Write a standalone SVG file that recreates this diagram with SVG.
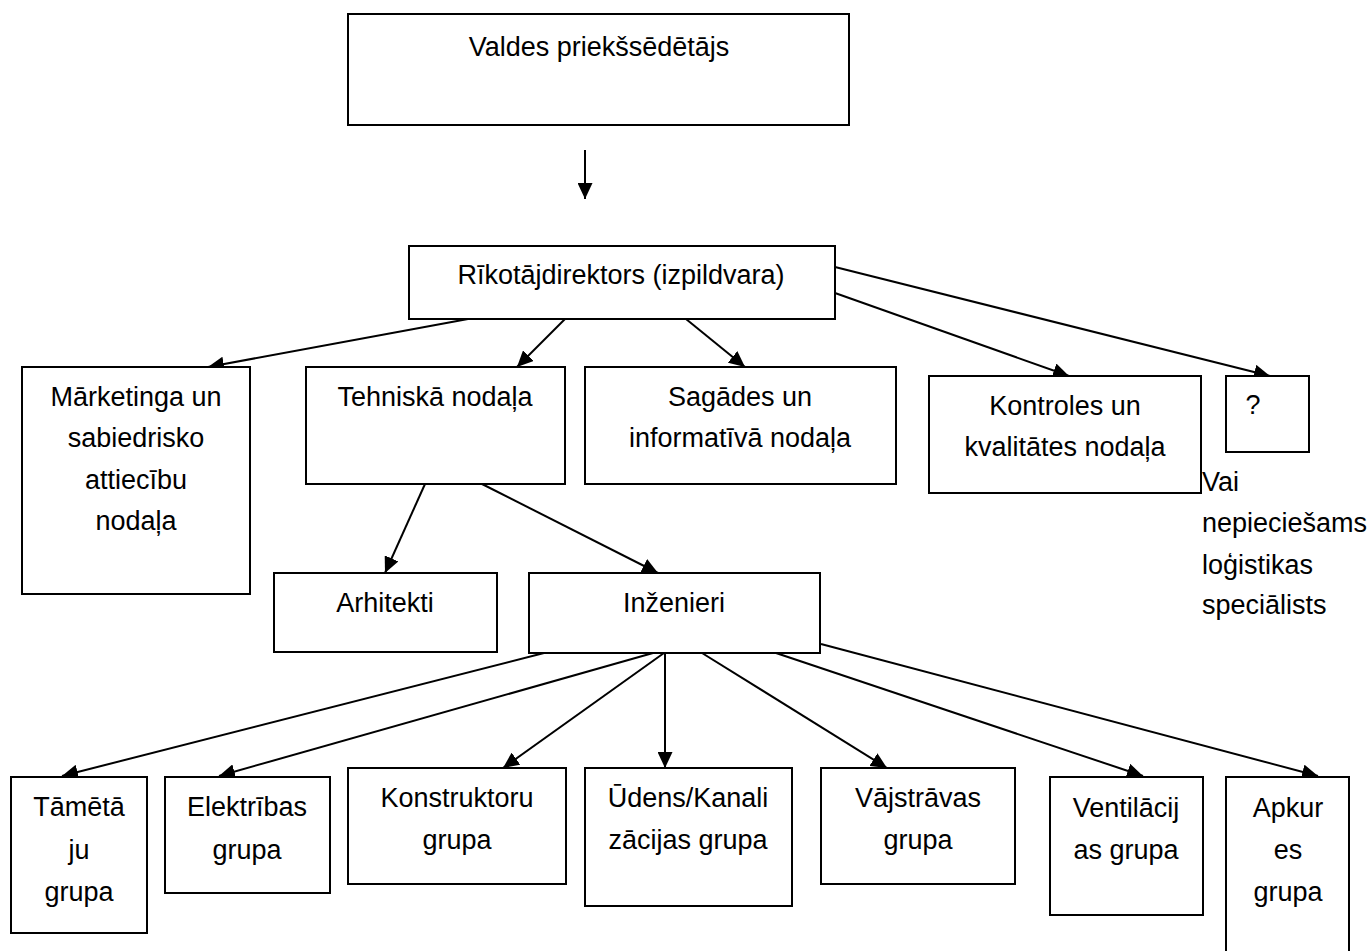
<svg xmlns="http://www.w3.org/2000/svg" width="1371" height="951" viewBox="0 0 1371 951">
  <style>
    .box { fill: #ffffff; stroke: #000000; stroke-width: 2; }
    .lbl { font-family: "Liberation Sans", Arial, sans-serif; font-size: 27px; fill: #000000; text-anchor: middle; }
    .note { font-family: "Liberation Sans", Arial, sans-serif; font-size: 27px; fill: #000000; }
    .edge { fill: none; stroke: #000000; stroke-width: 2; marker-end: url(#arrow); }
  </style>
  <defs>
    <marker id="arrow" markerUnits="userSpaceOnUse" markerWidth="17" markerHeight="15" refX="16" refY="7.5" orient="auto">
      <path d="M0,0 L16,7.5 L0,15 Z" fill="#000000"/>
    </marker>
  </defs>
  <rect width="1371" height="951" fill="#ffffff"/>

  <!-- connectors -->
  <g id="connectors">
    <line class="edge" x1="585" y1="150" x2="585" y2="199"/>
    <line class="edge" x1="468" y1="319" x2="208" y2="367"/>
    <line class="edge" x1="565" y1="319" x2="517" y2="367"/>
    <line class="edge" x1="686" y1="319" x2="745" y2="367"/>
    <line class="edge" x1="835" y1="293" x2="1069" y2="376"/>
    <line class="edge" x1="835" y1="267" x2="1270" y2="376"/>
    <line class="edge" x1="425" y1="484" x2="385" y2="573"/>
    <line class="edge" x1="482" y1="484" x2="658" y2="573"/>
    <line class="edge" x1="544" y1="653" x2="62" y2="776"/>
    <line class="edge" x1="653" y1="653" x2="219" y2="776"/>
    <line class="edge" x1="664" y1="653" x2="503" y2="768"/>
    <line class="edge" x1="665" y1="653" x2="665" y2="768"/>
    <line class="edge" x1="702" y1="653" x2="887" y2="768"/>
    <line class="edge" x1="776" y1="653" x2="1143" y2="776"/>
    <line class="edge" x1="821" y1="644" x2="1318" y2="776"/>
  </g>

  <g id="valdes">
    <rect class="box" x="348" y="14" width="501" height="111"/>
    <text class="lbl" x="599" y="56">Valdes priekšsēdētājs</text>
  </g>
  <g id="rikotajdirektors">
    <rect class="box" x="409" y="246" width="426" height="73"/>
    <text class="lbl" x="621" y="284">Rīkotājdirektors (izpildvara)</text>
  </g>
  <g id="marketinga">
    <rect class="box" x="22" y="367" width="228" height="227"/>
    <text class="lbl" x="136" y="406">Mārketinga un</text>
    <text class="lbl" x="136" y="447">sabiedrisko</text>
    <text class="lbl" x="136" y="489">attiecību</text>
    <text class="lbl" x="136" y="530">nodaļa</text>
  </g>
  <g id="tehniska">
    <rect class="box" x="306" y="367" width="259" height="117"/>
    <text class="lbl" x="435" y="406">Tehniskā nodaļa</text>
  </g>
  <g id="sagades">
    <rect class="box" x="585" y="367" width="311" height="117"/>
    <text class="lbl" x="740" y="406">Sagādes un</text>
    <text class="lbl" x="740" y="447">informatīvā nodaļa</text>
  </g>
  <g id="kontroles">
    <rect class="box" x="929" y="376" width="272" height="117"/>
    <text class="lbl" x="1065" y="415">Kontroles un</text>
    <text class="lbl" x="1065" y="456">kvalitātes nodaļa</text>
  </g>
  <g id="jautajums">
    <rect class="box" x="1226" y="376" width="83" height="76"/>
    <text class="lbl" x="1253" y="414">?</text>
  </g>
  <g id="piezime">
    <text class="note" x="1202" y="491">Vai</text>
    <text class="note" x="1202" y="532">nepieciešams</text>
    <text class="note" x="1202" y="574">loģistikas</text>
    <text class="note" x="1202" y="614">speciālists</text>
  </g>
  <g id="arhitekti">
    <rect class="box" x="274" y="573" width="223" height="79"/>
    <text class="lbl" x="385" y="612">Arhitekti</text>
  </g>
  <g id="inzenieri">
    <rect class="box" x="529" y="573" width="291" height="80"/>
    <text class="lbl" x="674" y="612">Inženieri</text>
  </g>
  <g id="tametaju">
    <rect class="box" x="11" y="777" width="136" height="156"/>
    <text class="lbl" x="79" y="816">Tāmētā</text>
    <text class="lbl" x="79" y="859">ju</text>
    <text class="lbl" x="79" y="901">grupa</text>
  </g>
  <g id="elektribas">
    <rect class="box" x="165" y="777" width="165" height="116"/>
    <text class="lbl" x="247" y="816">Elektrības</text>
    <text class="lbl" x="247" y="859">grupa</text>
  </g>
  <g id="konstruktoru">
    <rect class="box" x="348" y="768" width="218" height="116"/>
    <text class="lbl" x="457" y="807">Konstruktoru</text>
    <text class="lbl" x="457" y="849">grupa</text>
  </g>
  <g id="udens">
    <rect class="box" x="585" y="768" width="207" height="138"/>
    <text class="lbl" x="688" y="807">Ūdens/Kanali</text>
    <text class="lbl" x="688" y="849">zācijas grupa</text>
  </g>
  <g id="vajstravas">
    <rect class="box" x="821" y="768" width="194" height="116"/>
    <text class="lbl" x="918" y="807">Vājstrāvas</text>
    <text class="lbl" x="918" y="849">grupa</text>
  </g>
  <g id="ventilacijas">
    <rect class="box" x="1050" y="777" width="153" height="138"/>
    <text class="lbl" x="1126" y="817">Ventilācij</text>
    <text class="lbl" x="1126" y="859">as grupa</text>
  </g>
  <g id="apkures">
    <rect class="box" x="1226" y="777" width="123" height="190"/>
    <text class="lbl" x="1288" y="817">Apkur</text>
    <text class="lbl" x="1288" y="859">es</text>
    <text class="lbl" x="1288" y="901">grupa</text>
  </g>
</svg>
